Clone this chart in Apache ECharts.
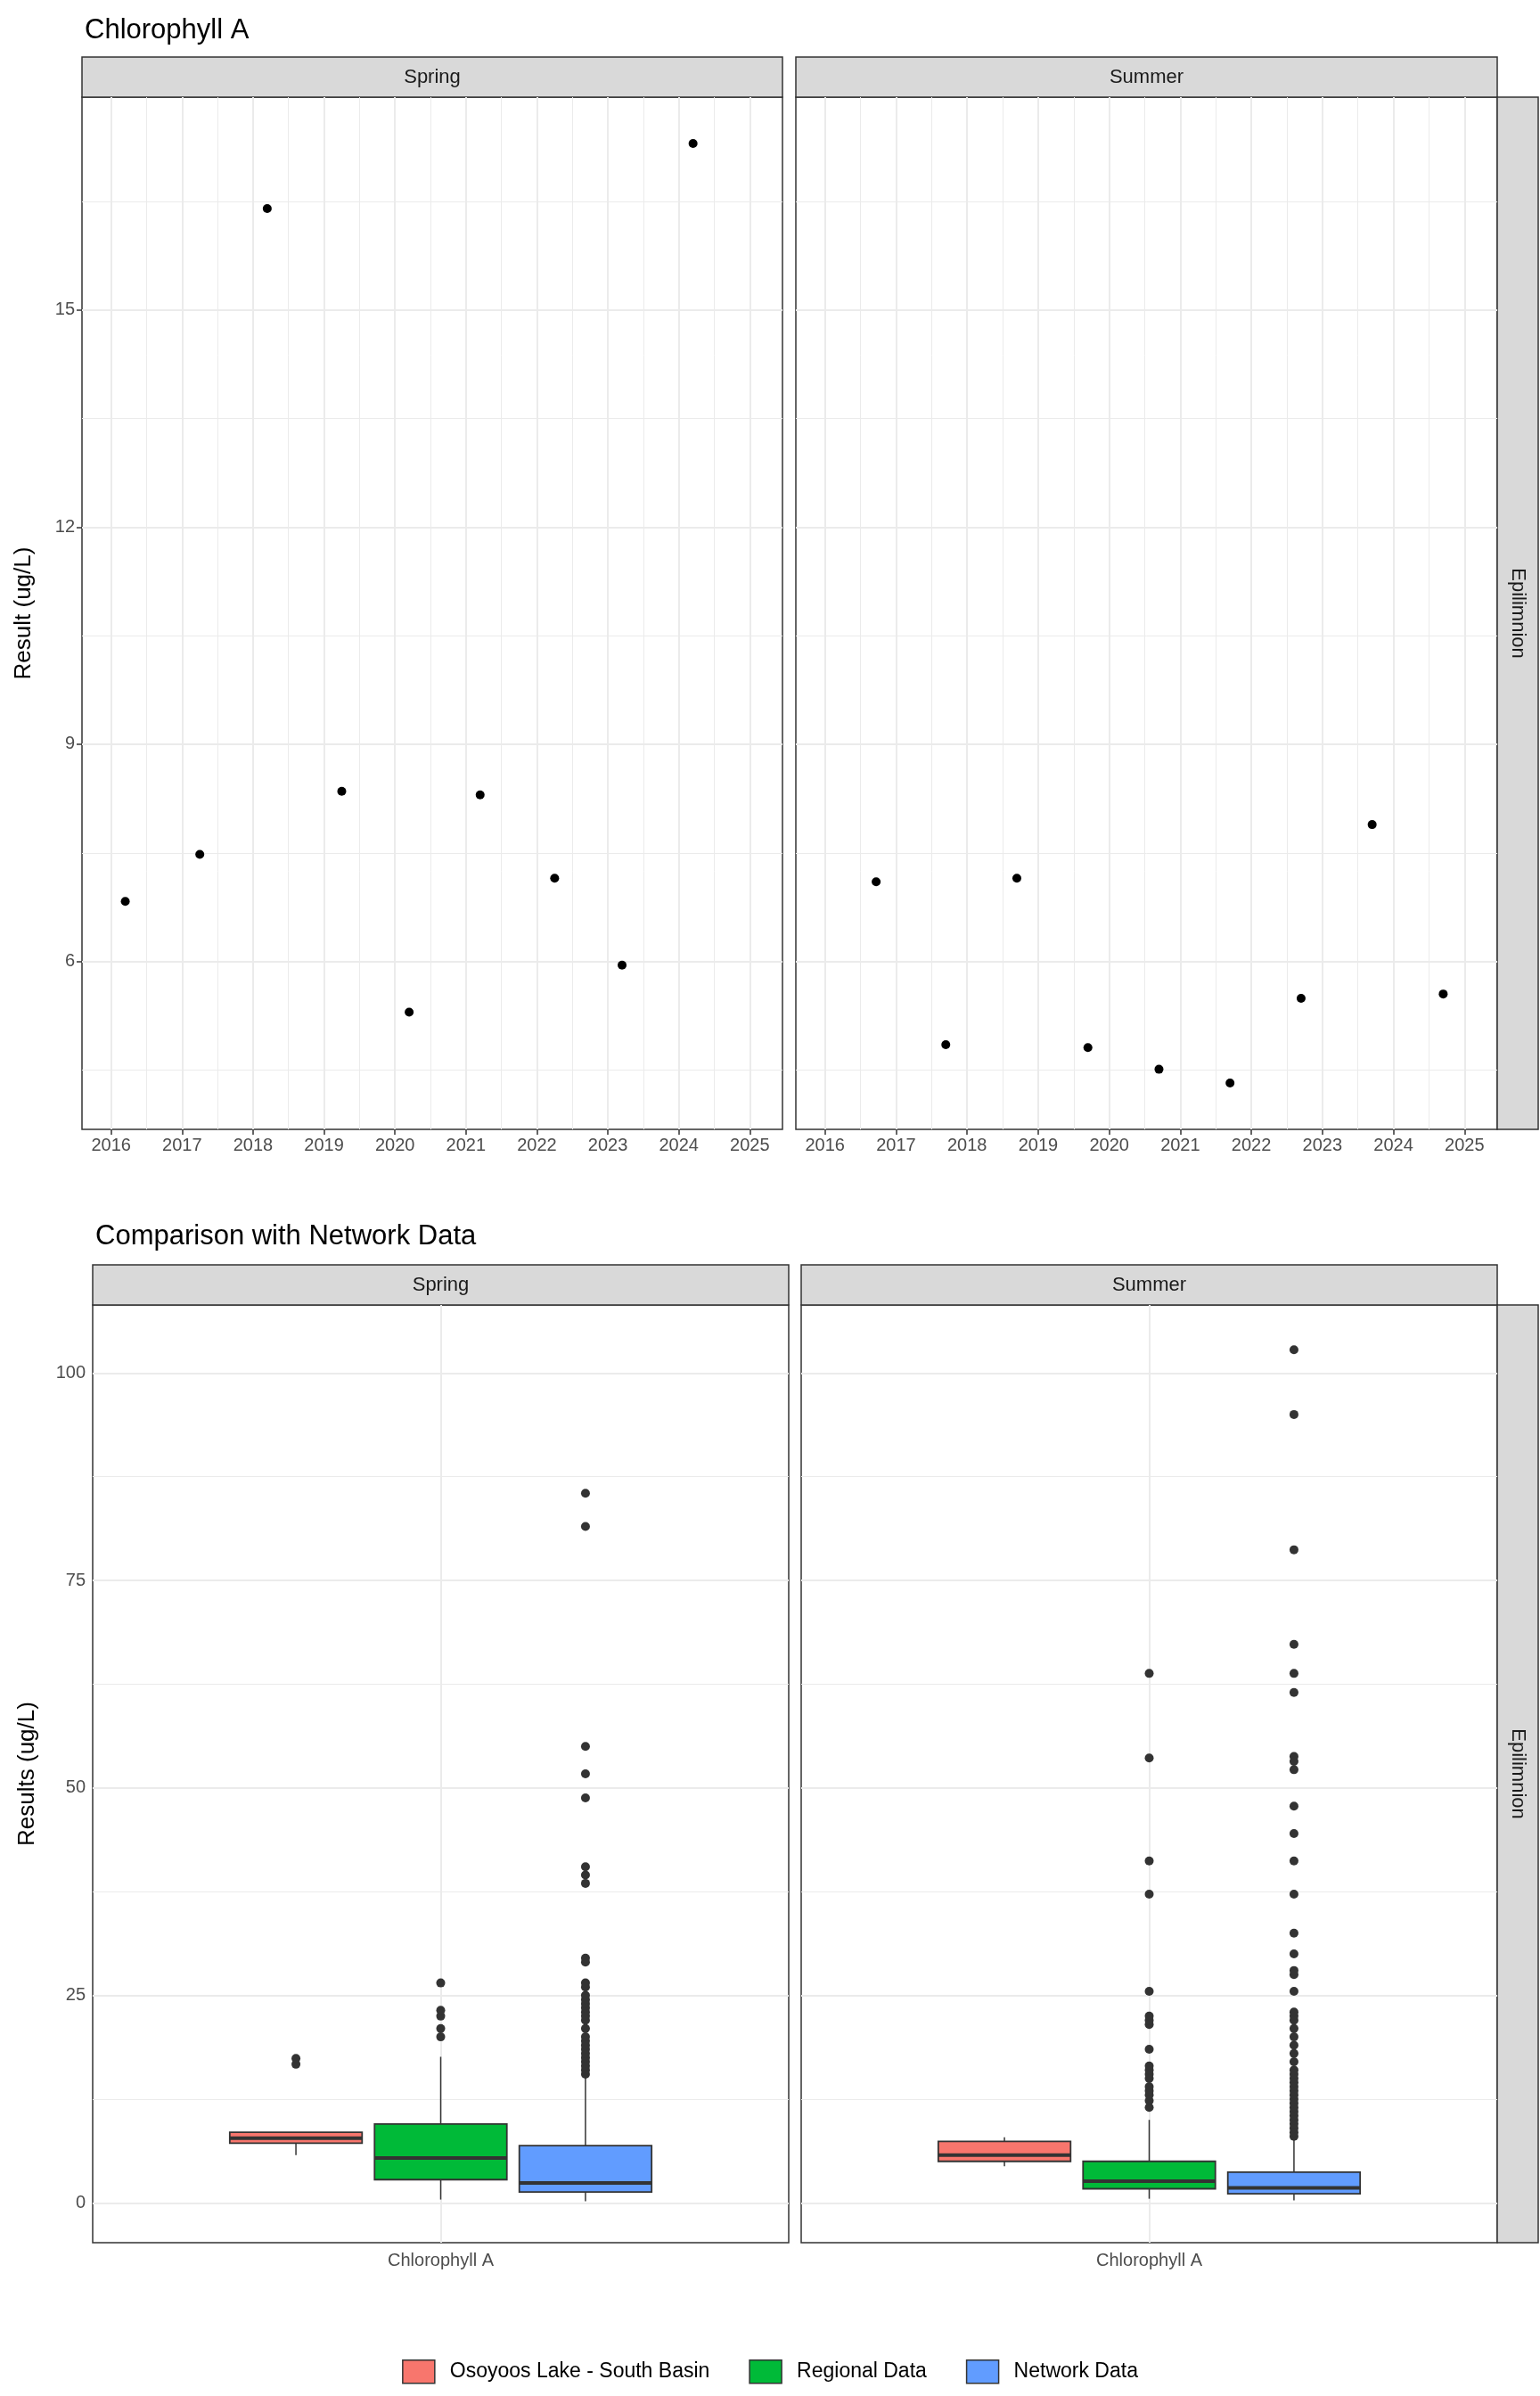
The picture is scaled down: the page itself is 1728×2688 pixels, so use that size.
<!DOCTYPE html>
<html>
<head>
<meta charset="utf-8">
<script src="https://cdn.jsdelivr.net/npm/echarts@6/dist/echarts.min.js"></script>
<style>
  html, body { margin: 0; padding: 0; background: #fff; }
  #main { width: 1728px; height: 2688px; }
</style>
</head>
<body>
<div id="main"></div>
<script>
var chart = echarts.init(document.getElementById('main'));

// ---- data: top panels (year, value)
var springPoints = [[2016.2, 6.83], [2017.25, 7.48], [2018.2, 16.4], [2019.25, 8.35], [2020.2, 5.3],
                    [2021.2, 8.3], [2022.25, 7.15], [2023.2, 5.95], [2024.2, 17.3]];
var summerPoints = [[2016.72, 7.1], [2017.7, 4.85], [2018.7, 7.15], [2019.7, 4.81], [2020.7, 4.51],
                    [2021.7, 4.32], [2022.7, 5.49], [2023.7, 7.89], [2024.7, 5.55]];
var years = [2016, 2017, 2018, 2019, 2020, 2021, 2022, 2023, 2024, 2025];
var halfYears = [2015.5, 2016.5, 2017.5, 2018.5, 2019.5, 2020.5, 2021.5, 2022.5, 2023.5, 2024.5, 2025.5];
var topYMajor = [6, 9, 12, 15];
var topYMinor = [4.5, 7.5, 10.5, 13.5, 16.5];

// ---- data: comparison boxplots [lower whisker, Q1, median, Q3, upper whisker]
var groups = ['Osoyoos Lake - South Basin', 'Regional Data', 'Network Data'];
var groupColors = ['#F8766D', '#00BA38', '#619CFF'];
var springBoxes = [[5.75, 7.2, 7.8, 8.5, 8.5], [0.4, 2.8, 5.4, 9.5, 17.6], [0.2, 1.3, 2.4, 6.9, 15.2]];
var summerBoxes = [[4.4, 5.0, 5.75, 7.4, 7.9], [0.5, 1.7, 2.6, 5.0, 10], [0.3, 1.1, 1.8, 3.7, 7.6]];
var springOutliers = [
  [16.7, 17.4],
  [20, 21, 22.5, 23.2, 26.5],
  [15.5, 16, 16.5, 17, 17.5, 18, 18.5, 19, 19.5, 20, 21, 22, 22.5, 23, 23.5, 24, 24.5, 25, 26, 26.5,
   29, 29.5, 38.5, 39.5, 40.5, 48.8, 51.7, 55, 81.5, 85.5]
];
var summerOutliers = [
  [],
  [11.5, 12.3, 13, 13.5, 14, 15, 15.5, 16, 16.5, 18.5, 21.5, 22, 22.5, 25.5, 37.2, 41.2, 53.6, 63.8],
  [8, 8.5, 9, 9.5, 10, 10.5, 11, 11.5, 12, 12.5, 13, 13.5, 14, 14.5, 15, 15.5, 16, 17, 18, 19, 20, 21,
   22, 22.5, 23, 25.5, 27.5, 28, 30, 32.5, 37.2, 41.2, 44.5, 47.8, 52.2, 53.2, 53.8, 61.5, 63.8, 67.3,
   78.7, 95, 102.8]
];
var botYMajor = [0, 25, 50, 75, 100];
var botYMinor = [12.5, 37.5, 62.5, 87.5];

var FONT = 'Liberation Sans';
var GRID_MAJOR = '#ebebeb';

function gridLines(xVals, xMinor, yVals, yMinor) {
  var d = [];
  xVals.forEach(function (v) { d.push({ xAxis: v, lineStyle: { width: 2, color: GRID_MAJOR, type: 'solid' } }); });
  xMinor.forEach(function (v) { d.push({ xAxis: v, lineStyle: { width: 1, color: GRID_MAJOR, type: 'solid' } }); });
  yVals.forEach(function (v) { d.push({ yAxis: v, lineStyle: { width: 2, color: GRID_MAJOR, type: 'solid' } }); });
  yMinor.forEach(function (v) { d.push({ yAxis: v, lineStyle: { width: 1, color: GRID_MAJOR, type: 'solid' } }); });
  return d;
}

function gridSeries(idx, data) {
  return {
    type: 'scatter', xAxisIndex: idx, yAxisIndex: idx, data: [], z: 1, silent: true,
    markLine: { silent: true, z: 1, symbol: 'none', label: { show: false }, animation: false, data: data }
  };
}

var grids = [
  { left: 92, top: 109, width: 786, height: 1158 },
  { left: 893, top: 109, width: 787, height: 1158 },
  { left: 104, top: 1464, width: 781, height: 1052 },
  { left: 899, top: 1464, width: 781, height: 1052 }
].map(function (g) {
  g.show = true; g.borderColor = '#333'; g.borderWidth = 1.5; g.backgroundColor = '#fff';
  return g;
});

var labelStyle = { color: '#4d4d4d', fontSize: 20, fontFamily: FONT };
var tickStyle = { show: true, length: 6, lineStyle: { color: '#333', width: 1.5 } };

function xTop(i) {
  return {
    type: 'value', gridIndex: i, min: 2015.59, max: 2025.46,
    axisLine: { show: false }, splitLine: { show: false },
    axisTick: Object.assign({ customValues: years }, tickStyle),
    axisLabel: Object.assign({ customValues: years, margin: 8, formatter: function (v) { return String(v); } }, labelStyle)
  };
}
function yTop(i) {
  return {
    type: 'value', gridIndex: i, min: 3.68, max: 17.94,
    axisLine: { show: false }, splitLine: { show: false },
    axisTick: Object.assign({}, tickStyle, { show: i === 0, customValues: topYMajor }),
    axisLabel: Object.assign({ show: i === 0, customValues: topYMajor, margin: 8 }, labelStyle),
    name: i === 0 ? 'Result (ug/L)' : '', nameLocation: 'middle', nameGap: 52,
    nameTextStyle: { fontSize: 26, fontFamily: FONT, color: '#000' }
  };
}
function xBot(i) {
  return {
    type: 'value', gridIndex: i, min: -0.404, max: 4.404,
    axisLine: { show: false }, splitLine: { show: false },
    axisTick: Object.assign({ customValues: [2] }, tickStyle),
    axisLabel: Object.assign({ customValues: [2], margin: 10, formatter: function () { return 'Chlorophyll A'; } }, labelStyle)
  };
}
function yBot(i) {
  return {
    type: 'value', gridIndex: i, min: -4.8, max: 108.2,
    axisLine: { show: false }, splitLine: { show: false },
    axisTick: Object.assign({}, tickStyle, { show: i === 2, customValues: botYMajor }),
    axisLabel: Object.assign({ show: i === 2, customValues: botYMajor, margin: 8 }, labelStyle),
    name: i === 2 ? 'Results (ug/L)' : '', nameLocation: 'middle', nameGap: 60,
    nameTextStyle: { fontSize: 26, fontFamily: FONT, color: '#000' }
  };
}

function boxSeries(idx, gi, stats, name) {
  return {
    type: 'custom', name: name, xAxisIndex: idx, yAxisIndex: idx, z: 3,
    itemStyle: { color: groupColors[gi] },
    data: [[gi + 1].concat(stats)],
    encode: { x: 0, y: [1, 2, 3, 4, 5] },
    renderItem: function (params, api) {
      var x = api.value(0);
      var lo = api.coord([x, api.value(1)]);
      var q1 = api.coord([x, api.value(2)]);
      var md = api.coord([x, api.value(3)]);
      var q3 = api.coord([x, api.value(4)]);
      var hi = api.coord([x, api.value(5)]);
      var left = api.coord([x - 0.457, 0])[0];
      var right = api.coord([x + 0.457, 0])[0];
      var stroke = { stroke: '#333', lineWidth: 1.5 };
      return {
        type: 'group',
        children: [
          { type: 'line', shape: { x1: lo[0], y1: lo[1], x2: q1[0], y2: q1[1] }, style: stroke },
          { type: 'line', shape: { x1: q3[0], y1: q3[1], x2: hi[0], y2: hi[1] }, style: stroke },
          { type: 'rect', shape: { x: left, y: q3[1], width: right - left, height: q1[1] - q3[1] },
            style: { fill: groupColors[gi], stroke: '#333', lineWidth: 1.8 } },
          { type: 'line', shape: { x1: left, y1: md[1], x2: right, y2: md[1] }, style: { stroke: '#333', lineWidth: 4 } }
        ]
      };
    }
  };
}

function outlierSeries(idx, gi, vals) {
  return {
    type: 'scatter', xAxisIndex: idx, yAxisIndex: idx, z: 4, symbolSize: 10, silent: true,
    itemStyle: { color: '#333', opacity: 1 },
    data: vals.map(function (v) { return [gi + 1, v]; })
  };
}

var series = [
  gridSeries(0, gridLines(years, halfYears, topYMajor, topYMinor)),
  gridSeries(1, gridLines(years, halfYears, topYMajor, topYMinor)),
  gridSeries(2, gridLines([2], [], botYMajor, botYMinor)),
  gridSeries(3, gridLines([2], [], botYMajor, botYMinor)),
  { type: 'scatter', xAxisIndex: 0, yAxisIndex: 0, z: 4, symbolSize: 10, itemStyle: { color: '#000', opacity: 1 }, data: springPoints },
  { type: 'scatter', xAxisIndex: 1, yAxisIndex: 1, z: 4, symbolSize: 10, itemStyle: { color: '#000', opacity: 1 }, data: summerPoints }
];
groups.forEach(function (g, gi) {
  series.push(boxSeries(2, gi, springBoxes[gi], g));
  series.push(boxSeries(3, gi, summerBoxes[gi], g));
  series.push(outlierSeries(2, gi, springOutliers[gi]));
  series.push(outlierSeries(3, gi, summerOutliers[gi]));
});

function strip(x, y, w, h, text, vertical) {
  return {
    type: 'group', children: [
      { type: 'rect', shape: { x: x, y: y, width: w, height: h }, style: { fill: '#d9d9d9', stroke: '#333', lineWidth: 1.5 } },
      { type: 'text', x: x + w / 2, y: y + h / 2, rotation: vertical ? -Math.PI / 2 : 0,
        style: { text: text, fontSize: 22, fontFamily: FONT, fill: '#1a1a1a', align: 'center', verticalAlign: 'middle' } }
    ]
  };
}

var option = {
  animation: false,
  backgroundColor: '#fff',
  title: [
    { text: 'Chlorophyll A', left: 90, top: 14, textStyle: { fontSize: 31, fontWeight: 'normal', fontFamily: FONT, color: '#000' } },
    { text: 'Comparison with Network Data', left: 102, top: 1367, textStyle: { fontSize: 31, fontWeight: 'normal', fontFamily: FONT, color: '#000' } }
  ],
  graphic: [
    strip(92, 64, 786, 45, 'Spring', false),
    strip(893, 64, 787, 45, 'Summer', false),
    strip(1680, 109, 46, 1158, 'Epilimnion', true),
    strip(104, 1419, 781, 45, 'Spring', false),
    strip(899, 1419, 781, 45, 'Summer', false),
    strip(1680, 1464, 46, 1052, 'Epilimnion', true)
  ],
  legend: {
    data: groups, left: 'center', top: 2642, itemWidth: 36, itemHeight: 26, itemGap: 44,
    icon: 'rect', textStyle: { fontSize: 23, fontFamily: FONT, color: '#000', padding: [0, 0, 0, 12] },
    itemStyle: { borderColor: '#333', borderWidth: 1.5 }
  },
  grid: grids,
  xAxis: [xTop(0), xTop(1), xBot(2), xBot(3)],
  yAxis: [yTop(0), yTop(1), yBot(2), yBot(3)],
  series: series
};

chart.setOption(option);
</script>
</body>
</html>
